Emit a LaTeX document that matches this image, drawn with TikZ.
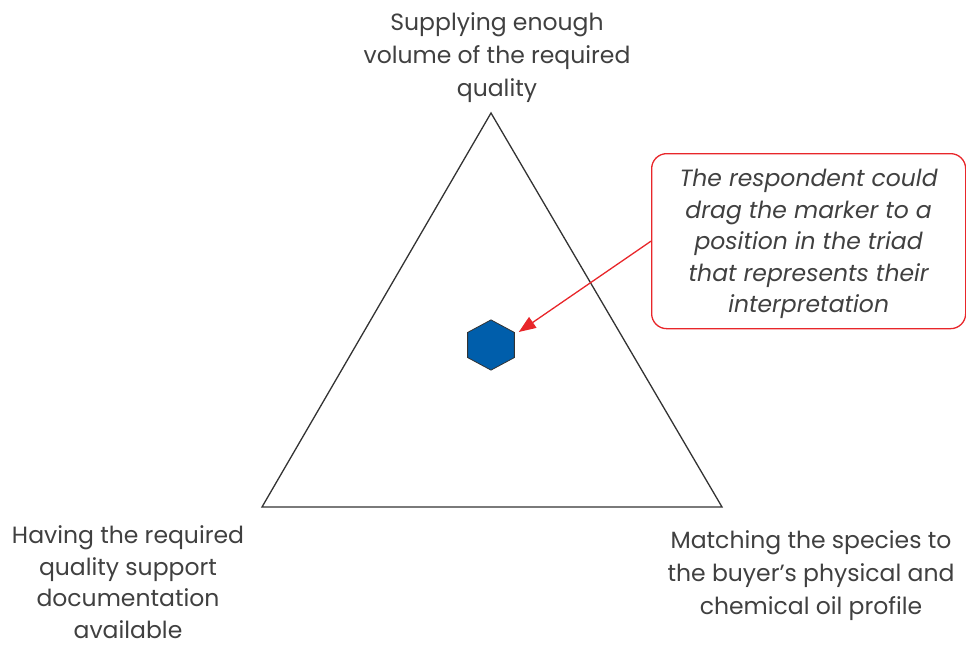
\documentclass[tikz,border=0pt]{standalone}
\usepackage{fontspec}
\setmainfont{Poppins}
\usetikzlibrary{shapes.geometric, arrows.meta}

\definecolor{txtgrey}{HTML}{404040}
\definecolor{calloutred}{HTML}{E8262A}
\definecolor{markerblue}{HTML}{005EAB}

\begin{document}
\begin{tikzpicture}[
      x=1pt, y=-1pt,
      every path/.style={line width=1.3pt},
      every node/.style={font=\fontsize{23.5}{33}\selectfont, text=txtgrey, align=center},
      cornerlabel/.style={anchor=north, inner sep=0pt},
    ]
    \useasboundingbox (0,0) rectangle (966,645);

    \coordinate (top) at (491,113);
    \coordinate (left) at (262,507);
    \coordinate (right) at (722,507);
    \draw[txtgrey!80!black] (top) -- (right) -- (left) -- cycle;

    \node[cornerlabel] (ltop) at (497,12) {Supplying enough\\volume of the required\\quality};
    \node[cornerlabel, font=\fontsize{23.5}{31.5}\selectfont] (lleft) at (128,525) {Having the required\\quality support\\documentation\\available};
    \node[cornerlabel] (lright) at (811,530) {Matching the species to\\the buyer's physical and\\chemical oil profile};

    \node[regular polygon, regular polygon sides=6, shape border rotate=30, minimum size=54pt,
          inner sep=0pt, fill=markerblue, draw=black!80, line width=0.8pt, yscale=0.93] (marker) at (491,345) {};

    \node[draw=calloutred, rounded corners=15pt, minimum width=314pt, minimum height=175pt,
          anchor=north west, inner sep=0pt, text depth=-10pt, font=\itshape\fontsize{23.5}{31.5}\selectfont] (note) at (651,153)
          {The respondent could\\drag the marker to a\\position in the triad\\that represents their\\interpretation};

    \draw[calloutred, -{Triangle[length=17pt, width=13pt]}] (note.west) -- ([xshift=4pt, yshift=13pt]marker.east);
\end{tikzpicture}
\end{document}
